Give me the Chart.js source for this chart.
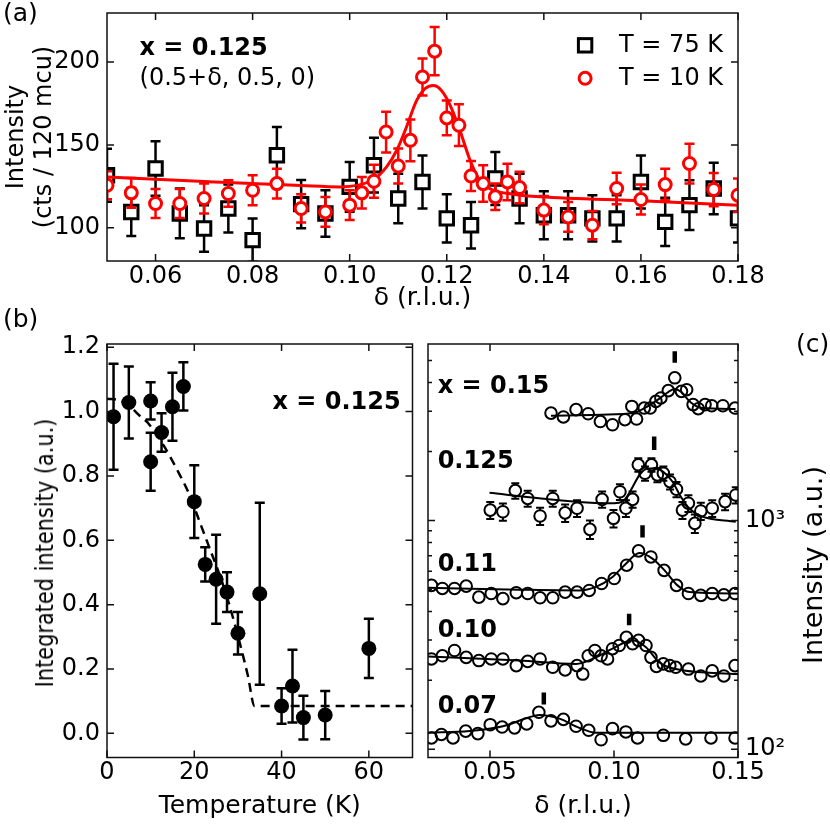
<!DOCTYPE html>
<html><head><meta charset="utf-8">
<script src="https://cdn.jsdelivr.net/npm/chart.js@4.4.0/dist/chart.umd.min.js"></script>
<style>
html,body{margin:0;padding:0;background:#fff;}
body{width:830px;height:830px;position:relative;overflow:hidden;font-family:'DejaVu Sans',sans-serif;}
canvas{position:absolute;}
.lbl{position:absolute;font-size:25px;color:#000;line-height:1;white-space:nowrap;}
</style></head><body>
<canvas id="ca" width="830" height="325" style="left:0;top:0"></canvas>
<canvas id="cb" width="420" height="510" style="left:0;top:320px"></canvas>
<canvas id="cc" width="410" height="510" style="left:420px;top:320px"></canvas>
<div class="lbl" style="left:3px;top:0px">(a)</div>
<div class="lbl" style="left:3px;top:306px">(b)</div>
<div class="lbl" style="left:796px;top:331px">(c)</div>
<div class="lbl" style="left:45px;top:553px;font-size:24px;transform:translate(-50%,-50%) rotate(-90deg) scaleX(0.87);">Integrated intensity (a.u.)</div>
<div class="lbl" style="left:812px;top:565px;font-size:27px;transform:translate(-50%,-50%) rotate(-90deg);">Intensity (a.u.)</div>
<script>
// ---------------- Panel (a) data ----------------
const deltaT75 = [0.050,0.055,0.060,0.065,0.070,0.075,0.080,0.085,0.090,0.095,0.100,0.105,0.110,0.115,0.120,0.125,0.130,0.135,0.140,0.145,0.150,0.155,0.160,0.165,0.170,0.175,0.180];
const intT75 = [131.7,109.6,135.8,108.7,99.6,111.7,92.6,143.8,114.3,108.7,124.7,137.8,117.7,127.7,105.7,101.6,129.8,117.7,107.6,107.6,105.7,105.7,127.7,103.6,113.7,123.7,105.7];
const errT75 = [16,14.5,16.5,15,14,14.5,13,17,14.5,14,15,16.5,15,16,14.5,14,16,15,14.5,14.5,14,14,16,14.5,15,15.5,14.5];
const deltaT10 = [0.050,0.055,0.060,0.065,0.070,0.075,0.080,0.085,0.090,0.095,0.100,0.1025,0.105,0.1075,0.110,0.1125,0.115,0.1175,0.120,0.1225,0.125,0.1275,0.130,0.1325,0.135,0.140,0.145,0.150,0.155,0.160,0.165,0.170,0.175,0.180];
const intT10 = [125.7,121.1,114.7,114.7,117.7,120.7,122.7,126.7,111.7,109.6,113.7,121.1,128.1,157.8,137.3,152.8,191.0,206.6,166.3,161.9,131.3,126.7,118.7,127.7,124.3,110.7,106.6,101.6,123.7,117.1,126.1,138.8,123.1,119.7];
const errT10 = [8.5,9,8.7,8.7,9,8,9,9,8.5,9,9,9.5,10,12.3,10.5,12.6,11.2,14.5,10.5,12.6,9,11,8,11,9.5,8.5,9,8.5,9.5,9,9.5,12,10,10];
const fitDeltaA = [0.05,0.07,0.09,0.098,0.1048,0.1076,0.1097,0.1117,0.1138,0.1155,0.1172,0.1189,0.1207,0.1227,0.1248,0.1268,0.1296,0.1337,0.1392,0.16,0.18];
const fitIntA = [130.7,128.0,125.5,124.7,129.0,136.8,146.8,160.8,176.9,183.9,185.9,182.9,173.9,158.9,140.8,128.7,122.7,120.3,118.7,116.3,113.7];
const ticksAx = [0.06,0.08,0.10,0.12,0.14,0.16,0.18];
const ticksAy = [100,150,200];

// ---------------- Panel (b) data ----------------
const tempB = [1.5,5,10,10,12.5,15,17.5,20,22.5,25,27.5,30,35,40,42.5,45,50,60];
const intB = [0.984,1.028,1.033,0.844,0.935,1.015,1.078,0.720,0.525,0.479,0.439,0.311,0.434,0.085,0.147,0.049,0.057,0.264];
const errB = [0.165,0.112,0.058,0.090,0.060,0.106,0.075,0.113,0.053,0.138,0.062,0.066,0.283,0.055,0.113,0.068,0.075,0.092];
const dashT = [0,3,5.5,7.5,9.3,13,16,19,21.3,23.6,25.9,28.1,30.4,32.3,33.8,70];
const dashI = [1.040,1.034,1.013,0.987,0.966,0.894,0.821,0.738,0.655,0.572,0.489,0.396,0.282,0.178,0.085,0.085];
const ticksBx = [0,20,40,60];
const ticksBy = [0,0.2,0.4,0.6,0.8,1.0,1.2];

// ---------------- Panel (c) data ----------------
const d015 = [0.0746,0.0796,0.0847,0.0896,0.0945,0.0994,0.1044,0.1091,0.1072,0.1122,0.1146,0.1169,0.1189,0.1219,0.1245,0.1272,0.1293,0.1319,0.1340,0.1367,0.1394,0.1439,0.1488];
const i015 = [2944,2831,3048,2924,2704,2618,2754,2773,3148,3097,3097,3311,3428,3690,4198,3664,3724,3206,3076,3206,3170,3170,3097];
const fd015 = [0.0746,0.095,0.108,0.113,0.118,0.122,0.1245,0.127,0.131,0.135,0.149];
const fi015 = [2864,2897,2951,3126,3388,3648,3750,3648,3273,3105,3069];

const d0125 = [0.0501,0.0552,0.0602,0.0652,0.0702,0.0753,0.0803,0.0851,0.0903,0.0952,0.0998,0.1024,0.1048,0.1075,0.1098,0.1125,0.1151,0.1175,0.1199,0.1226,0.1252,0.1276,0.1300,0.1326,0.1350,0.1396,0.1448,0.1491];
const i0125 = [1109,1091,1349,1247,1045,1247,1079,1130,914,1236,1021,1334,1130,1236,1750,1607,1750,1581,1607,1476,1368,1109,1189,970,1099,1130,1208,1291];
const e0125 = [95,95,105,100,90,100,95,95,85,100,90,105,95,100,120,115,120,115,115,110,105,95,100,90,95,95,100,105];
const fd0125 = [0.0498,0.0706,0.0907,0.1001,0.1034,0.1108,0.1128,0.1169,0.1202,0.1236,0.1269,0.1303,0.1350,0.1491];
const fi0125 = [1321,1247,1194,1189,1208,1607,1675,1690,1618,1476,1271,1130,1045,986];

const d011 = [0.0264,0.0308,0.0357,0.0404,0.0455,0.0505,0.0552,0.0606,0.0652,0.0702,0.0753,0.0803,0.0851,0.0900,0.0950,0.1001,0.1051,0.1099,0.1149,0.1202,0.1252,0.1300,0.1350,0.1396,0.1443,0.1488];
const i011 = [520,504,504,516,462,479,455,483,479,459,459,486,486,494,530,557,637,736,692,605,520,479,470,479,473,479];
const fd011 = [0.025,0.0619,0.0860,0.0927,0.0994,0.1048,0.1102,0.1155,0.1209,0.1256,0.1303,0.15];
const fi011 = [508,498,494,512,566,647,721,681,596,520,486,479];

const d010 = [0.0264,0.0308,0.0357,0.0404,0.0455,0.0505,0.0552,0.0606,0.0652,0.0702,0.0753,0.0803,0.0851,0.0874,0.0896,0.0923,0.0948,0.0974,0.0994,0.1021,0.1050,0.1075,0.1099,0.1129,0.1149,0.1171,0.1199,0.1225,0.1249,0.1300,0.1350,0.1396,0.1443,0.1488];
const i010 = [248,256,270,252,244,248,248,232,242,248,228,222,232,213,256,270,256,248,275,284,308,289,299,284,252,230,236,232,228,224,209,220,209,232];
const fd010 = [0.025,0.0619,0.0847,0.0927,0.0994,0.1075,0.1129,0.1182,0.1249,0.15];
const fi010 = [254,244,236,252,275,299,279,240,224,213];

const d007 = [0.0264,0.0304,0.0351,0.0402,0.0451,0.0501,0.0549,0.0599,0.0648,0.0697,0.0746,0.0796,0.0847,0.0898,0.0948,0.0994,0.1048,0.1095,0.1199,0.1289,0.1391,0.1488];
const i007 = [112,116,112,120,117,128,125,124,129,145,133,135,126,121,110,123,119,112,115,111,112,112];
const fd007 = [0.025,0.0418,0.0552,0.0659,0.0699,0.078,0.086,0.0927,0.15];
const fi007 = [118,120,126,138,141,136,124,118,118];

const peakDelta = [0.1245,0.1162,0.1115,0.1061,0.0717];
const peakLo = [4887,2032,841,348,157];
const peakHi = [5483,2328,953,391,177];
const seriesNames = ['x = 0.15','0.125','0.11','0.10','0.07'];
const ticksCx = [0.05,0.10,0.15];
const ticksCy = [100,200,300,400,500,600,700,800,900,1000,2000,3000,4000,5000];

// ---------------- helpers ----------------
Chart.defaults.font.family = "'DejaVu Sans', sans-serif";
Chart.defaults.color = '#000';
const pts = (xs, ys) => xs.map((x, i) => ({x: x, y: ys[i]}));
const zeroPad = s => { s.paddingTop = 0; s.paddingBottom = 0; s.paddingLeft = 0; s.paddingRight = 0; };
const setTicks = vals => s => { s.ticks = vals.map(v => ({value: v})); };

const errorBars = {
  id: 'errorBars',
  beforeDatasetDraw(chart, args) {
    const ds = chart.data.datasets[args.index];
    if (!ds.errors) return;
    const meta = args.meta;
    const xs = chart.scales[meta.xAxisID], ys = chart.scales[meta.yAxisID];
    const ctx = chart.ctx, a = chart.chartArea;
    ctx.save();
    ctx.beginPath(); ctx.rect(a.left, a.top, a.right - a.left, a.bottom - a.top); ctx.clip();
    ctx.strokeStyle = ds.errColor; ctx.lineWidth = ds.errWidth; ctx.lineCap = 'butt';
    const cap = ds.capHalf, gap = ds.errGap || 0;
    ds.data.forEach((p, i) => {
      const e = ds.errors[i];
      const x = xs.getPixelForValue(p.x);
      const yc = ys.getPixelForValue(p.y);
      const yt = ys.getPixelForValue(p.y + e), yb = ys.getPixelForValue(p.y - e);
      ctx.beginPath();
      if (gap > 0) {
        ctx.moveTo(x, yt); ctx.lineTo(x, Math.min(yc - gap, yb));
        ctx.moveTo(x, Math.max(yc + gap, yt)); ctx.lineTo(x, yb);
      } else { ctx.moveTo(x, yt); ctx.lineTo(x, yb); }
      ctx.moveTo(x - cap, yt); ctx.lineTo(x + cap, yt);
      ctx.moveTo(x - cap, yb); ctx.lineTo(x + cap, yb);
      ctx.stroke();
    });
    ctx.restore();
  }
};

const frameTicks = {
  id: 'frameTicks',
  afterDraw(chart) {
    const ctx = chart.ctx, a = chart.chartArea;
    ctx.save();
    ctx.strokeStyle = '#111'; ctx.lineWidth = 1.5;
    ctx.strokeRect(a.left, a.top, a.right - a.left, a.bottom - a.top);
    Object.values(chart.scales).forEach(s => {
      const isLog = s.type === 'logarithmic';
      s.ticks.forEach(t => {
        const v = t.value;
        let len = 7;
        if (isLog) { const l = Math.log10(v); if (Math.abs(l - Math.round(l)) > 1e-6) len = 4; }
        const p = s.getPixelForValue(v);
        ctx.beginPath();
        if (s.isHorizontal()) {
          ctx.moveTo(p, a.bottom); ctx.lineTo(p, a.bottom - len);
          ctx.moveTo(p, a.top); ctx.lineTo(p, a.top + len);
        } else {
          ctx.moveTo(a.left, p); ctx.lineTo(a.left + len, p);
          ctx.moveTo(a.right, p); ctx.lineTo(a.right - len, p);
        }
        ctx.stroke();
      });
    });
    ctx.restore();
  }
};

const makeAnnot = items => ({
  id: 'annot',
  afterDraw(chart) {
    const ctx = chart.ctx, xs = chart.scales.x, ys = chart.scales.y;
    items.forEach(it => {
      const px = xs.getPixelForValue(it.x), py = ys.getPixelForValue(it.y);
      ctx.save();
      if (it.marker === 'rect') {
        ctx.strokeStyle = it.color; ctx.lineWidth = 3; ctx.fillStyle = '#fff';
        ctx.fillRect(px - 6.7, py - 6.7, 13.4, 13.4); ctx.strokeRect(px - 6.7, py - 6.7, 13.4, 13.4);
      } else if (it.marker === 'circle') {
        ctx.strokeStyle = it.color; ctx.lineWidth = 3; ctx.fillStyle = '#fff';
        ctx.beginPath(); ctx.arc(px, py, 6, 0, Math.PI * 2); ctx.fill(); ctx.stroke();
      } else {
        ctx.font = it.font; ctx.fillStyle = it.color || '#000';
        ctx.textAlign = it.align || 'left'; ctx.textBaseline = 'middle';
        ctx.fillText(it.text, px, py);
      }
      ctx.restore();
    });
  }
});

const axisBase = (extra) => Object.assign({
  grid: {display: false, drawTicks: false, tickLength: 0},
  border: {display: false},
}, extra);

const common = {responsive: false, animation: false, events: [],
  plugins: {legend: {display: false}, tooltip: {enabled: false}}};

// ---------------- Chart (a) ----------------
new Chart(document.getElementById('ca'), {
  type: 'scatter',
  data: {datasets: [
    {label: 'T = 10 K', data: pts(deltaT10, intT10), errors: errT10, errColor: '#ff0000', errWidth: 2.5, capHalf: 5,
     pointStyle: 'circle', pointRadius: 6, pointBorderWidth: 3, pointBorderColor: '#ff0000', pointBackgroundColor: '#fff', clip: 0},
    {type: 'line', label: 'fit', data: pts(fitDeltaA, fitIntA), borderColor: '#ff0000', borderWidth: 3, pointRadius: 0,
     cubicInterpolationMode: 'monotone', fill: false, clip: 0},
    {label: 'T = 75 K', data: pts(deltaT75, intT75), errors: errT75, errColor: '#000', errWidth: 2.5, capHalf: 5,
     pointStyle: 'rect', pointRadius: 9.5, pointBorderWidth: 3, pointBorderColor: '#000', pointBackgroundColor: '#fff', clip: 0}
  ]},
  options: Object.assign({}, common, {
    layout: {padding: {left: 0, right: 92, top: 13, bottom: 0}},
    scales: {
      x: axisBase({type: 'linear', min: 0.05, max: 0.18, afterBuildTicks: setTicks(ticksAx),
        ticks: {autoSkip: false, maxRotation: 0, padding: 1, font: {size: 24}, callback: v => v.toFixed(2)},
        title: {display: true, text: 'δ (r.l.u.)', font: {size: 25}, padding: {top: 0, bottom: 12}},
        afterFit: s => { s.height = 64; zeroPad(s); }}),
      y: axisBase({type: 'linear', min: 80, max: 229.6, afterBuildTicks: setTicks(ticksAy),
        ticks: {autoSkip: false, padding: 7, font: {size: 24}, callback: v => String(v)},
        title: {display: true, text: ['Intensity', '(cts / 120 mcu)'], font: {size: 24, lineHeight: 1.17}, padding: {top: 3, bottom: 0}},
        afterFit: s => { s.width = 107; zeroPad(s); }})
    }
  }),
  plugins: [errorBars, frameTicks, makeAnnot([
    {text: 'x = 0.125', x: 0.0567, y: 208.3, font: 'bold 24px "DejaVu Sans"'},
    {text: '(0.5+δ, 0.5, 0)', x: 0.0567, y: 190.2, font: '24px "DejaVu Sans"'},
    {marker: 'rect', color: '#000', x: 0.1485, y: 210.1},
    {text: 'T = 75 K', x: 0.1555, y: 210.1, font: '24px "DejaVu Sans"'},
    {marker: 'circle', color: '#ff0000', x: 0.1485, y: 190.2},
    {text: 'T = 10 K', x: 0.1555, y: 190.2, font: '24px "DejaVu Sans"'}
  ])]
});

// ---------------- Chart (b) ----------------
new Chart(document.getElementById('cb'), {
  type: 'scatter',
  data: {datasets: [
    {label: 'data', data: pts(tempB, intB), errors: errB, errColor: '#000', errWidth: 2.5, capHalf: 5,
     pointStyle: 'circle', pointRadius: 7.5, pointBorderWidth: 0, pointBackgroundColor: '#000', pointBorderColor: '#000', clip: 0},
    {type: 'line', label: 'guide', data: pts(dashT, dashI), borderColor: '#000', borderWidth: 2.5, borderDash: [9, 6],
     pointRadius: 0, cubicInterpolationMode: 'monotone', fill: false, clip: 0}
  ]},
  options: Object.assign({}, common, {
    layout: {padding: {left: 0, right: 4, top: 24, bottom: 0}},
    scales: {
      x: axisBase({type: 'linear', min: 0, max: 70, afterBuildTicks: setTicks(ticksBx),
        ticks: {autoSkip: false, maxRotation: 0, padding: 1, font: {size: 24}, callback: v => String(v)},
        title: {display: true, text: 'Temperature (K)', font: {size: 25}, padding: {top: 0, bottom: 9}},
        afterFit: s => { s.height = 72.5; zeroPad(s); }}),
      y: axisBase({type: 'linear', min: -0.075, max: 1.21, afterBuildTicks: setTicks(ticksBy),
        ticks: {autoSkip: false, padding: 7, font: {size: 24}, callback: v => v.toFixed(1)},
        afterFit: s => { s.width = 107; zeroPad(s); }})
    }
  }),
  plugins: [errorBars, frameTicks, makeAnnot([
    {text: 'x = 0.125', x: 37.9, y: 1.026, font: 'bold 24px "DejaVu Sans"'}
  ])]
});

// ---------------- Chart (c) ----------------
const circ = (d, i) => ({label: 'pts', data: pts(d, i), pointStyle: 'circle', pointRadius: 5.8, pointBorderWidth: 2,
  pointBorderColor: '#000', pointBackgroundColor: 'rgba(255,255,255,0)', clip: 0});
const fitl = (d, i) => ({type: 'line', label: 'fit', data: pts(d, i), borderColor: '#000', borderWidth: 2, pointRadius: 0,
  cubicInterpolationMode: 'monotone', fill: false, clip: 0});
const peakSets = peakDelta.map((d, k) => ({type: 'line', label: 'peak', data: [{x: d, y: peakLo[k]}, {x: d, y: peakHi[k]}],
  borderColor: '#000', borderWidth: 4.5, borderCapStyle: 'butt', pointRadius: 0, fill: false, clip: 0}));
const c0125 = Object.assign(circ(d0125, i0125), {errors: e0125, errColor: '#000', errWidth: 2, capHalf: 4, errGap: 6});

new Chart(document.getElementById('cc'), {
  type: 'scatter',
  data: {datasets: [].concat(peakSets, [
    fitl(fd015, fi015), fitl(fd0125, fi0125), fitl(fd011, fi011), fitl(fd010, fi010), fitl(fd007, fi007),
    circ(d015, i015), c0125, circ(d011, i011), circ(d010, i010), circ(d007, i007)
  ])},
  options: Object.assign({}, common, {
    layout: {padding: {left: 8, right: 0, top: 24, bottom: 0}},
    scales: {
      x: axisBase({type: 'linear', min: 0.025, max: 0.15, afterBuildTicks: setTicks(ticksCx),
        ticks: {autoSkip: false, maxRotation: 0, padding: 1, font: {size: 24}, callback: v => v.toFixed(2)},
        title: {display: true, text: 'δ (r.l.u.)', font: {size: 25}, padding: {top: 0, bottom: 9}},
        afterFit: s => { s.height = 72.5; zeroPad(s); }}),
      y: axisBase({type: 'logarithmic', position: 'right', min: 92, max: 5900, afterBuildTicks: setTicks(ticksCy),
        ticks: {autoSkip: false, padding: 7, font: {size: 24},
          callback: v => (Math.abs(v - 100) < 1e-6 ? '10²' : (Math.abs(v - 1000) < 1e-6 ? '10³' : ''))},
        afterFit: s => { s.width = 92; zeroPad(s); }})
    }
  }),
  plugins: [errorBars, frameTicks, makeAnnot([
    {text: seriesNames[0], x: 0.0289, y: 3846, font: 'bold 24px "DejaVu Sans"'},
    {text: seriesNames[1], x: 0.0289, y: 1803, font: 'bold 24px "DejaVu Sans"'},
    {text: seriesNames[2], x: 0.0289, y: 637, font: 'bold 24px "DejaVu Sans"'},
    {text: seriesNames[3], x: 0.0289, y: 330, font: 'bold 24px "DejaVu Sans"'},
    {text: seriesNames[4], x: 0.0289, y: 154, font: 'bold 24px "DejaVu Sans"'}
  ])]
});
</script>
</body></html>
